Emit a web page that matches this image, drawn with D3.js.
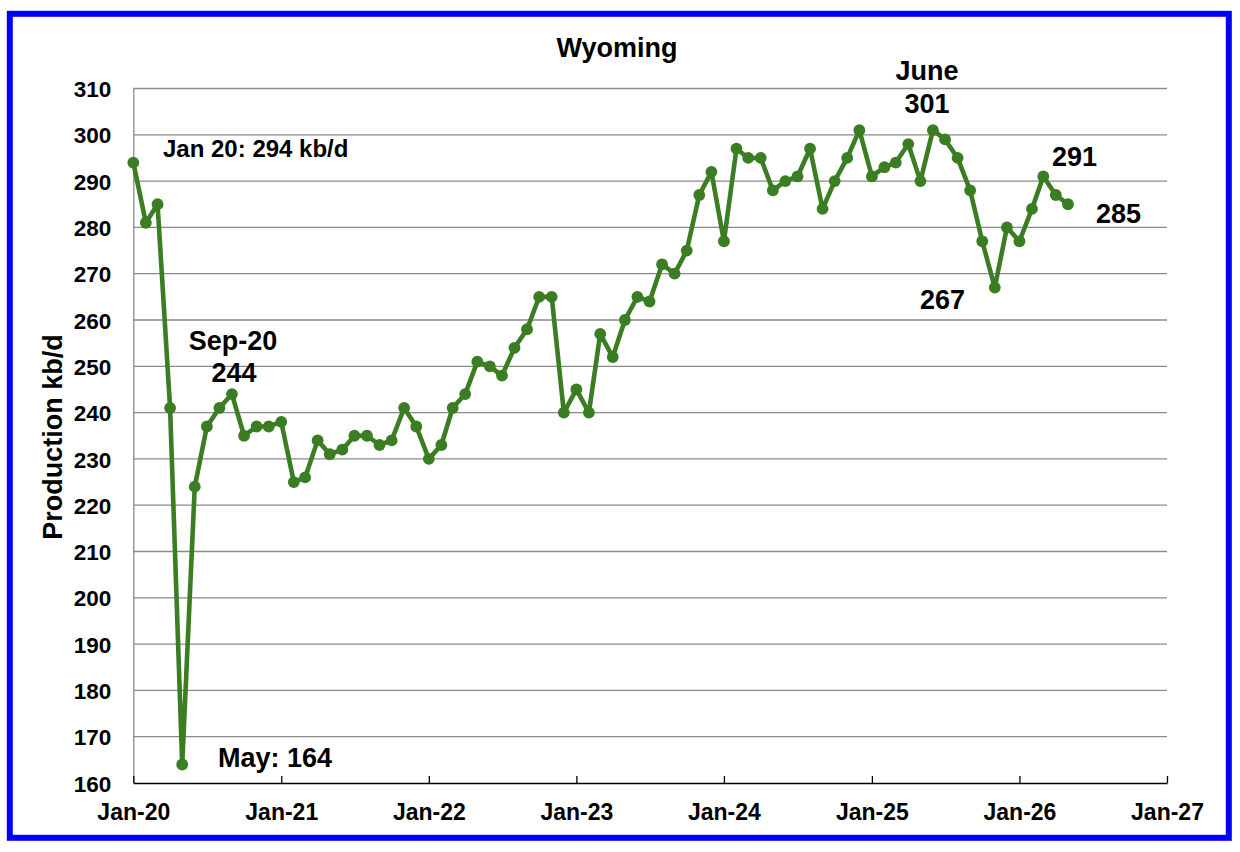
<!DOCTYPE html>
<html>
<head>
<meta charset="utf-8">
<script src="https://cdn.jsdelivr.net/npm/d3@7"></script>
<style>
  html, body { margin: 0; padding: 0; background: #ffffff; }
  svg { display: block; }
  text { font-family: "Liberation Sans", Arial, Helvetica, sans-serif; font-weight: bold; fill: #000; }
</style>
</head>
<body>
<svg id="chart" width="1240" height="852"></svg>
<script>
// ---- data ----
const startMonth = "2020-01";
const production = [
  294, 281, 285, 241, 164, 224, 237, 241, 244, 235, 237, 237,
  238, 225, 226, 234, 231, 232, 235, 235, 233, 234, 241, 237,
  230, 233, 241, 244, 251, 250, 248, 254, 258, 265, 265, 240,
  245, 240, 257, 252, 260, 265, 264, 272, 270, 275, 287, 292,
  277, 297, 295, 295, 288, 290, 291, 297, 284, 290, 295, 301,
  291, 293, 294, 298, 290, 301, 299, 295, 288, 277, 267, 280,
  277, 284, 291, 287, 285
];
const yTicks = [160, 170, 180, 190, 200, 210, 220, 230, 240, 250, 260, 270, 280, 290, 300, 310];
const xTickLabels = ["Jan-20", "Jan-21", "Jan-22", "Jan-23", "Jan-24", "Jan-25", "Jan-26", "Jan-27"];
const titleText = "Wyoming";
const yLabelText = "Production kb/d";
const annotations = [
  { text: "Jan 20: 294 kb/d", x: 163, y: 157, size: 24, anchor: "start" },
  { text: "Sep-20", x: 233, y: 350, size: 27, anchor: "middle" },
  { text: "244", x: 234, y: 382, size: 27, anchor: "middle" },
  { text: "May: 164", x: 218, y: 767, size: 27, anchor: "start" },
  { text: "June", x: 927, y: 80, size: 27, anchor: "middle" },
  { text: "301", x: 927, y: 113, size: 27, anchor: "middle" },
  { text: "291", x: 1052, y: 166, size: 27, anchor: "start" },
  { text: "285", x: 1096, y: 223, size: 27, anchor: "start" },
  { text: "267", x: 920, y: 309, size: 27, anchor: "start" }
];

// ---- build ----
(function () {
const parseMonth = d3.timeParse("%Y-%m");
const t0 = parseMonth(startMonth);
const dates = production.map((_, i) => d3.timeMonth.offset(t0, i));
const series = production.map((v, i) => ({ date: dates[i], value: v }));
const tickDates = xTickLabels.map(s => d3.timeParse("%b-%y")(s));

const svg = d3.select("#chart");

const plotLeft = 133.3, plotRight = 1167, plotTop = 88.5, plotBottom = 783;

const x = d3.scaleTime()
  .domain([tickDates[0], tickDates[tickDates.length - 1]])
  .range([plotLeft, plotRight]);
const y = d3.scaleLinear().domain([160, 310]).range([plotBottom, plotTop]);

// outer blue border
svg.append("rect")
  .attr("x", 9.8).attr("y", 13.8)
  .attr("width", 1219).attr("height", 824)
  .attr("fill", "none").attr("stroke", "#0000ff").attr("stroke-width", 6);

// gridlines
svg.append("g")
  .selectAll("line")
  .data(yTicks.filter(v => v > 160))
  .join("line")
  .attr("x1", plotLeft).attr("x2", plotRight)
  .attr("y1", d => y(d)).attr("y2", d => y(d))
  .attr("stroke", "#8a8a8a").attr("stroke-width", 1.3);

// y axis
const yAxis = d3.axisLeft(y).tickValues(yTicks).tickSize(0).tickPadding(22);
const gy = svg.append("g").attr("transform", `translate(${plotLeft},0)`).call(yAxis);
gy.select(".domain").attr("stroke", "#8a8a8a").attr("stroke-width", 1.3);
gy.selectAll("text")
  .attr("font-size", 22.5)
  .attr("font-family", "Liberation Sans, Arial, sans-serif")
  .attr("font-weight", "bold")
  .attr("fill", "#000")
  .attr("dy", "0.36em");

// x axis
const xAxis = d3.axisBottom(x)
  .tickValues(tickDates)
  .tickFormat((d, i) => xTickLabels[i])
  .tickSizeInner(-7)
  .tickSizeOuter(0);
const gx = svg.append("g").attr("transform", `translate(0,${plotBottom})`).call(xAxis);
gx.select(".domain").attr("stroke", "#000").attr("stroke-width", 1.5);
gx.selectAll(".tick line").attr("stroke", "#000").attr("stroke-width", 1.3);
gx.selectAll("text")
  .attr("font-size", 23)
  .attr("font-family", "Liberation Sans, Arial, sans-serif")
  .attr("font-weight", "bold")
  .attr("fill", "#000")
  .attr("y", 37)
  .attr("dy", 0);

// line
const green = "#3a7d22";
const line = d3.line().x(d => x(d.date)).y(d => y(d.value));
svg.append("path")
  .datum(series)
  .attr("d", line)
  .attr("fill", "none")
  .attr("stroke", green)
  .attr("stroke-width", 4.6)
  .attr("stroke-linejoin", "round");

svg.append("g")
  .selectAll("circle")
  .data(series)
  .join("circle")
  .attr("cx", d => x(d.date))
  .attr("cy", d => y(d.value))
  .attr("r", 5.9)
  .attr("fill", green);

// title
svg.append("text")
  .attr("x", 617).attr("y", 57)
  .attr("text-anchor", "middle")
  .attr("font-size", 27)
  .text(titleText);

// y label
svg.append("text")
  .attr("transform", "translate(62,437) rotate(-90)")
  .attr("text-anchor", "middle")
  .attr("font-size", 27)
  .text(yLabelText);

// annotations
svg.append("g")
  .selectAll("text")
  .data(annotations)
  .join("text")
  .attr("x", d => d.x)
  .attr("y", d => d.y)
  .attr("text-anchor", d => d.anchor)
  .attr("font-size", d => d.size)
  .text(d => d.text);
})();
</script>
</body>
</html>
